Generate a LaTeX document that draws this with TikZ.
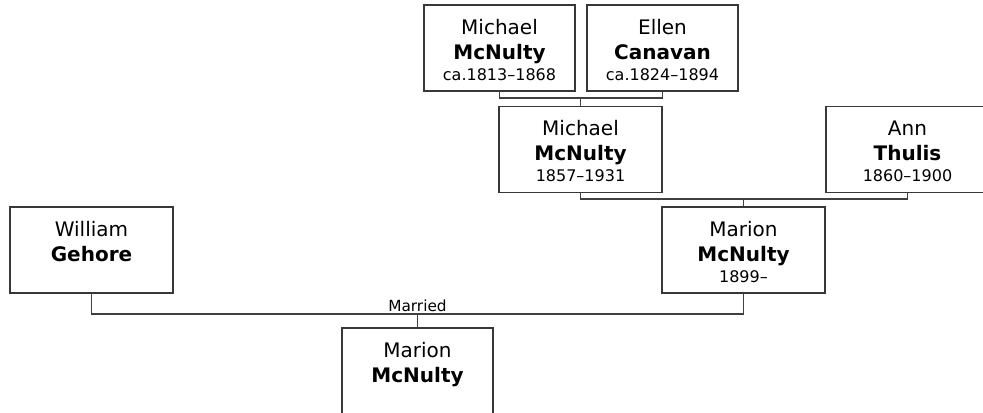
\documentclass[tikz,border=0pt]{standalone}
\usepackage{fontspec}
\setmainfont{DejaVu Sans}
\usepackage{tikz}
\usetikzlibrary{calc}

\newcommand{\yearsfont}{\fontsize{12}{15}\selectfont}

\begin{document}
\begin{tikzpicture}[x=0.75pt, y=-0.75pt, font=\fontsize{15}{18.75}\selectfont,
  person/.style={draw=black!78, line width=1.1pt, rectangle, inner xsep=0pt, inner ysep=0pt,
    text width=122.25pt, align=center, text height=22.1pt, text depth=42.4pt},
  narrow/.style={person, text width=113.25pt},
  link/.style={draw=black!75, line width=1.1pt}]

\useasboundingbox (0,0) rectangle (983,413);

% ---- grandparents ------------------------------------------------------------------
\node[narrow] (michaelsr) at (499.5,48) {Michael\\ \textbf{McNulty}\\[-3pt] {\yearsfont ca.1813--1868}};
\node[narrow] (ellen) at (662.5,48) {Ellen\\ \textbf{Canavan}\\[-3pt] {\yearsfont ca.1824--1894}};

% ---- parents -----------------------------------------------------------------------
\node[person] (michael) at (580.5,149.5) {Michael\\ \textbf{McNulty}\\[-3pt] {\yearsfont 1857--1931}};
\node[person] (ann) at (907.5,149.5) {Ann\\ \textbf{Thulis}\\[-3pt] {\yearsfont 1860--1900}};

% ---- the couple --------------------------------------------------------------------
\node[person] (william) at (91.5,250) {William\\ \textbf{Gehore}\\[-3pt] {\yearsfont\strut}};
\node[person] (marion) at (743.5,250) {Marion\\ \textbf{McNulty}\\[-3pt] {\yearsfont 1899--}};

% ---- child -------------------------------------------------------------------------
\node[narrow] (child) at (417.5,371) {Marion\\ \textbf{McNulty}\\[-3pt] {\yearsfont\strut}};

% ---- connectors --------------------------------------------------------------------
\coordinate (top) at (580.5,98);
\coordinate (mid) at (743.5,199);
\coordinate (low) at (417.5,314);

\draw[link] (michaelsr.south) |- (top) -| (ellen.south);
\draw[link] (top) -- (michael.north);
\draw[link] (michael.south) |- (mid) -| (ann.south);
\draw[link] (mid) -- (marion.north);
\draw[link] (william.south) |- (low) -| (marion.south);
\draw[link] (low) -- (child.north);

\node[anchor=south, inner sep=1.5pt, font=\fontsize{11.5}{14}\selectfont] (married) at (low) {Married};

\end{tikzpicture}
\end{document}
